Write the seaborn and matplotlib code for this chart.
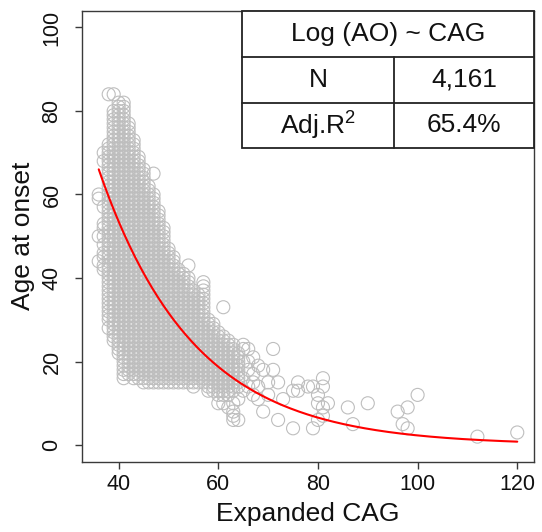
import numpy as np
import pandas as pd
import matplotlib
matplotlib.use("Agg")
import matplotlib.pyplot as plt
import seaborn as sns

# ---- data ----
# dense core: for each CAG value, the span of ages at onset covered by points
core_cag = [38, 39, 40, 41, 42, 43, 44, 45, 46, 47, 48, 49, 50, 51, 52, 53, 54, 55, 56, 57, 58, 59, 60, 61, 62, 63, 64]
core_lo = [30, 25, 22, 16, 17, 16, 16, 15, 15, 15, 15, 15, 15, 15, 15, 15, 15, 14, 15, 15, 13, 13, 12, 12, 12, 13, 14]
core_hi = [72, 80, 82, 82, 77, 73, 69, 66, 62, 60, 56, 52, 47, 45, 42, 41, 40, 37, 36, 38, 30, 29, 27, 26, 25, 24, 22]

# sparse points outside the core
extra_cag = [36, 36, 36, 36, 37, 37, 37, 37, 37, 37, 37, 37, 37, 37, 37, 38, 39, 38,
             47, 54, 57, 61,
             60, 61, 62, 63, 63, 63, 63, 64, 64, 65, 65, 65, 65, 65, 66, 66, 66, 66,
             67, 67, 67, 67, 68, 68, 68, 69, 69, 70, 70, 71, 71, 72, 72, 73,
             75, 75, 76, 76, 78, 79, 79, 80, 80, 80, 81, 81, 81, 81, 82,
             86, 87, 90, 96, 97, 98, 98, 100, 112, 120]
extra_ao = [60, 59, 50, 44, 70, 68, 57, 53, 52, 50, 48, 46, 45, 43, 42, 84, 84, 28,
            65, 43, 39, 33,
            10, 10, 9, 10, 8, 7, 6, 11, 6, 24, 23, 20, 16, 13, 23, 20, 18, 14,
            21, 17, 15, 12, 14, 19, 11, 18, 8, 15, 12, 23, 18, 15, 6, 11,
            13, 4, 15, 13, 14, 14, 4, 12, 10, 6, 16, 14, 9, 7, 10,
            9, 5, 10, 8, 5, 9, 4, 12, 2, 3]

# fitted model log(AO) ~ CAG
fit_intercept = 6.08
fit_slope = -0.0525
fit_cag_range = [36, 120]

x_ticks = [40, 60, 80, 100, 120]
y_ticks = [0, 20, 40, 60, 80, 100]

table_title = "Log (AO) ~ CAG"
table_rows = [("N", "4,161"), ("Adj.R$^{2}$", "65.4%")]

# ---- build frames ----
cag_pts, ao_pts = [], []
for c, lo, hi in zip(core_cag, core_lo, core_hi):
    for a in range(lo, hi + 1):
        cag_pts.append(c)
        ao_pts.append(a)
cag_pts += extra_cag
ao_pts += extra_ao
df = pd.DataFrame({"cag": cag_pts, "ao": ao_pts})

xs = np.linspace(fit_cag_range[0], fit_cag_range[1], 300)
fit_df = pd.DataFrame({"cag": xs, "ao": np.exp(fit_intercept + fit_slope * xs)})

# ---- style ----
sns.set_theme(style="ticks")
plt.rcParams["font.family"] = ["Liberation Sans", "DejaVu Sans"]
plt.rcParams["mathtext.fontset"] = "custom"
plt.rcParams["mathtext.rm"] = "Liberation Sans"
plt.rcParams["mathtext.it"] = "Liberation Sans:italic"
plt.rcParams["mathtext.bf"] = "Liberation Sans:bold"

W, H = 542, 532
fig = plt.figure(figsize=(W / 100, H / 100), dpi=100)
ax_l, ax_r, ax_t, ax_b = 82, 534, 10.8, 461.7
ax = fig.add_axes([ax_l / W, 1 - ax_b / H, (ax_r - ax_l) / W, (ax_b - ax_t) / H])

sns.scatterplot(data=df, x="cag", y="ao", ax=ax, marker="o", s=88,
                facecolor="none", edgecolor="#BEBEBE", linewidth=0.8,
                legend=False, zorder=2)
sns.lineplot(data=fit_df, x="cag", y="ao", ax=ax, color="#FF0000",
             linewidth=1.5, zorder=3)

ax.set_xlim(32.64, 123.36)
ax.set_ylim(-4, 104)
ax.set_xticks(x_ticks)
ax.set_yticks(y_ticks)
ax.set_xticklabels([str(t) for t in x_ticks])
ax.set_yticklabels([str(t) for t in y_ticks], rotation=90, va="center")

spine_col = "#3a3a3a"
for s in ax.spines.values():
    s.set_visible(True)
    s.set_color(spine_col)
    s.set_linewidth(1.0)
ax.tick_params(axis="both", direction="out", length=5, width=1.0,
               color=spine_col, labelsize=15.5, labelcolor="#111111")
ax.tick_params(axis="x", pad=4)
ax.tick_params(axis="y", pad=9)

ax.set_xlabel("Expanded CAG", fontsize=19, color="#111111")
ax.set_ylabel("Age at onset", fontsize=19, color="#111111")
ax.xaxis.set_label_coords(0.5, -(514.5 - ax_b) / (ax_b - ax_t))
ax.yaxis.set_label_coords((23.5 - ax_l) / (ax_r - ax_l), 0.5)
ax.xaxis.label.set_va("center")
ax.yaxis.label.set_va("center")

# ---- table in the upper right ----
def ax_x(px):
    return (px - ax_l) / (ax_r - ax_l)

def ax_y(py):
    return (ax_b - py) / (ax_b - ax_t)

t_left, t_mid, t_right = ax_x(242), ax_x(394), 1.0
t_top, t_r1, t_r2, t_bot = 1.0, ax_y(57), ax_y(103), ax_y(148)
tcol = "#222222"
ax.add_patch(plt.Rectangle((t_left, t_bot), t_right - t_left, t_top - t_bot,
                           transform=ax.transAxes, facecolor="white",
                           edgecolor=tcol, linewidth=1.3, zorder=5, clip_on=False))
for yy in (t_r1, t_r2):
    ax.plot([t_left, t_right], [yy, yy], transform=ax.transAxes, color=tcol,
            linewidth=1.3, zorder=6, clip_on=False)
ax.plot([t_mid, t_mid], [t_bot, t_r1], transform=ax.transAxes, color=tcol,
        linewidth=1.3, zorder=6, clip_on=False)

ax.text((t_left + t_right) / 2, (t_top + t_r1) / 2, table_title,
        transform=ax.transAxes, ha="center", va="center", fontsize=19,
        color="#111111", zorder=7)
row_centers = [(t_r1 + t_r2) / 2, (t_r2 + t_bot) / 2]
for (lab, val), yc in zip(table_rows, row_centers):
    ax.text((t_left + t_mid) / 2, yc, lab, transform=ax.transAxes,
            ha="center", va="center", fontsize=19, color="#111111", zorder=7)
    ax.text((t_mid + t_right) / 2, yc, val, transform=ax.transAxes,
            ha="center", va="center", fontsize=19, color="#111111", zorder=7)

fig.savefig("out.png", dpi=100, facecolor="white")
